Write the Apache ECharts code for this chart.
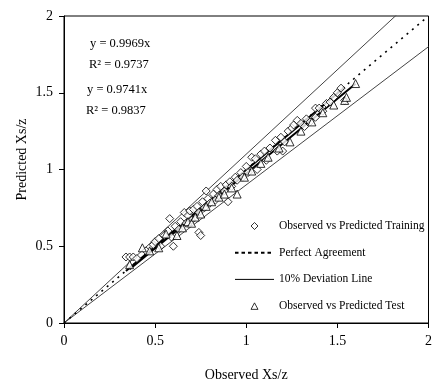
<!DOCTYPE html>
<html>
<head>
<meta charset="utf-8">
<script src="https://cdn.jsdelivr.net/npm/echarts@6/dist/echarts.min.js"></script>
<style>html,body{margin:0;padding:0;background:#fff}#c{width:435px;height:387px}</style>
</head>
<body>
<div id="c"></div>
<script>
// Training set: observed vs predicted Xs/z
var trainObs  = [0.34,0.36,0.38,0.40,0.45,0.49,0.50,0.52,0.53,0.55,0.57,0.58,0.59,0.60,0.61,0.63,0.64,0.66,0.67,0.68,0.69,0.70,0.71,0.73,0.74,0.74,0.75,0.76,0.77,0.78,0.79,0.80,0.82,0.83,0.84,0.85,0.86,0.88,0.89,0.90,0.91,0.92,0.94,0.95,0.97,0.98,1.00,1.01,1.03,1.05,1.06,1.08,1.10,1.11,1.13,1.16,1.17,1.19,1.20,1.21,1.23,1.25,1.26,1.28,1.30,1.32,1.33,1.35,1.38,1.38,1.40,1.42,1.44,1.46,1.48,1.50,1.52,1.54];
var trainPred = [0.43,0.43,0.43,0.42,0.47,0.51,0.53,0.55,0.50,0.57,0.60,0.68,0.56,0.50,0.63,0.61,0.66,0.72,0.65,0.70,0.73,0.67,0.74,0.76,0.72,0.59,0.57,0.79,0.75,0.86,0.81,0.78,0.84,0.80,0.87,0.83,0.89,0.86,0.90,0.79,0.92,0.89,0.95,0.93,0.98,0.95,1.02,0.98,1.08,1.07,1.00,1.10,1.12,1.06,1.14,1.19,1.12,1.21,1.12,1.18,1.25,1.27,1.29,1.32,1.30,1.28,1.33,1.31,1.40,1.34,1.40,1.38,1.43,1.44,1.47,1.50,1.53,1.45];
// Test set
var testObs  = [0.36,0.43,0.47,0.52,0.56,0.62,0.65,0.68,0.70,0.72,0.75,0.78,0.81,0.85,0.88,0.92,0.95,0.99,1.03,1.08,1.12,1.18,1.24,1.30,1.36,1.42,1.48,1.54,1.55,1.60];
var testPred = [0.38,0.49,0.47,0.49,0.58,0.57,0.62,0.66,0.65,0.69,0.71,0.76,0.79,0.82,0.84,0.88,0.84,0.95,0.99,1.04,1.08,1.14,1.18,1.25,1.31,1.37,1.42,1.45,1.47,1.56];
// Fit slopes
var trainSlope = 0.9969, trainR2 = 0.9737;
var testSlope = 0.9741, testR2 = 0.9837;
var axisTicks = [0, 0.5, 1, 1.5, 2];
var legendNames = ['Observed vs Predicted Training','Perfect Agreement','10% Deviation Line','Observed vs Predicted Test'];

function pairs(a,b){return a.map(function(v,i){return [v,b[i]];});}
function fitLine(xs,s){var mn=Math.min.apply(null,xs),mx=Math.max.apply(null,xs);return [[mn,mn*s],[mx,mx*s]];}
var axMin = axisTicks[0], axMax = axisTicks[axisTicks.length-1];
var serif = 'Liberation Serif';
var noSym = {color:'rgba(0,0,0,0)',borderColor:'rgba(0,0,0,0)',borderWidth:0};
var diamondIcon = 'path://M0,4 M39,4 M16,4L19.5,0.5L23,4L19.5,7.5Z';
var triangleIcon = 'path://M0,7.5 M39,7.5 M19.5,1L23,7.5L16,7.5Z';
var hollow = {color:'#fff',borderColor:'#000',borderWidth:1};

var chart = echarts.init(document.getElementById('c'));
chart.setOption({
  animation:false,
  backgroundColor:'#fff',
  grid:{left:64,right:4,top:16,bottom:63,show:true,borderColor:'#000',borderWidth:1},
  xAxis:{type:'value',min:axMin,max:axMax,interval:0.5,
    name:'Observed Xs/z',nameLocation:'middle',nameGap:45,nameMoveOverlap:false,
    nameTextStyle:{fontFamily:serif,fontSize:14,color:'#000'},
    axisLine:{lineStyle:{color:'#000',width:1}},
    axisTick:{inside:false,length:5,lineStyle:{color:'#000'}},
    axisLabel:{fontFamily:serif,fontSize:14,color:'#000',margin:11},
    splitLine:{show:false}},
  yAxis:{type:'value',min:axMin,max:axMax,interval:0.5,
    name:'Predicted Xs/z',nameLocation:'middle',nameGap:35,nameMoveOverlap:false,
    nameTextStyle:{fontFamily:serif,fontSize:14,color:'#000',padding:[0,0,0,20]},
    axisLine:{lineStyle:{color:'#000',width:1}},
    axisTick:{inside:false,length:5,lineStyle:{color:'#000'}},
    axisLabel:{fontFamily:serif,fontSize:14,color:'#000',margin:11},
    splitLine:{show:false}},
  legend:{
    data:[
      {name:legendNames[0],icon:diamondIcon,itemStyle:hollow},
      {name:legendNames[1],lineStyle:{type:[3.5,3],width:2,color:'#000'}},
      {name:legendNames[2],lineStyle:{width:1,color:'#000'}},
      {name:legendNames[3],icon:triangleIcon,itemStyle:hollow}
    ],
    orient:'vertical',left:229,top:215,itemWidth:39,itemHeight:8,itemGap:14.7,symbolKeepAspect:true,
    textStyle:{fontFamily:serif,fontSize:11.5,color:'#000',lineHeight:12},selectedMode:false},
  graphic:[
    {type:'text',left:90,top:37,style:{text:'y = '+trainSlope+'x',font:'12.5px "Liberation Serif"',fill:'#000'}},
    {type:'text',left:89,top:58,style:{text:'R² = '+trainR2,font:'12.5px "Liberation Serif"',fill:'#000'}},
    {type:'text',left:87,top:83,style:{text:'y = '+testSlope+'x',font:'12.5px "Liberation Serif"',fill:'#000'}},
    {type:'text',left:86,top:104,style:{text:'R² = '+testR2,font:'12.5px "Liberation Serif"',fill:'#000'}}
  ],
  series:[
    {name:'10% Deviation Line',type:'line',symbol:'none',silent:true,clip:true,itemStyle:noSym,
      data:[[0,0],[axMax,axMax*1.1]],lineStyle:{color:'#444',width:1},z:1},
    {name:'10% Deviation Line',type:'line',symbol:'none',silent:true,clip:true,itemStyle:noSym,
      data:[[0,0],[axMax,axMax*0.9]],lineStyle:{color:'#444',width:1},z:1},
    {name:'Perfect Agreement',type:'line',symbol:'none',silent:true,clip:true,itemStyle:noSym,
      data:[[0,0],[axMax,axMax]],lineStyle:{color:'#000',width:1.6,type:[2,5]},z:2},
    {name:'Training fit',type:'line',symbol:'none',silent:true,itemStyle:noSym,
      data:fitLine(trainObs,trainSlope),lineStyle:{color:'#000',width:2},z:3},
    {name:'Test fit',type:'line',symbol:'none',silent:true,itemStyle:noSym,
      data:fitLine(testObs,testSlope),lineStyle:{color:'#000',width:2},z:3},
    {name:'Observed vs Predicted Training',type:'scatter',symbol:'diamond',symbolSize:8,
      data:pairs(trainObs,trainPred),itemStyle:hollow,z:4},
    {name:'Observed vs Predicted Test',type:'scatter',symbol:'triangle',symbolSize:8,
      data:pairs(testObs,testPred),itemStyle:hollow,z:4}
  ]
});
</script>
</body>
</html>
